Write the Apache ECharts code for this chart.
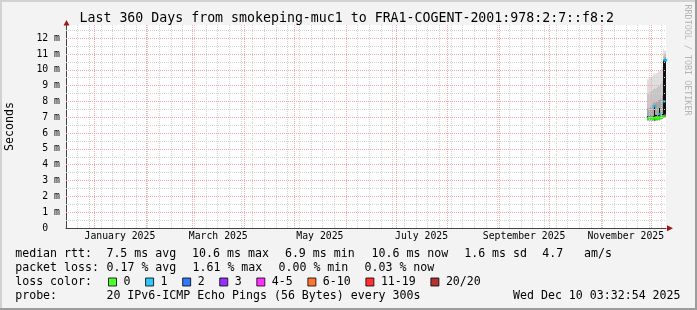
<!DOCTYPE html>
<html><head><meta charset="utf-8">
<script src="https://cdn.jsdelivr.net/npm/echarts@6/dist/echarts.min.js"></script>
<style>html,body{margin:0;padding:0;background:#f3f3f3}#c{width:697px;height:310px}</style>
</head><body><div id="c"></div>
<script>
// ---- data ----
const rangeStart = '2024-12-15T03:32:54Z';
const rangeEnd = '2025-12-10T03:32:54Z';
const times = ['2025-11-29T12:00:00Z','2025-11-30T00:00:00Z','2025-11-30T12:00:00Z','2025-12-01T00:00:00Z','2025-12-01T12:00:00Z','2025-12-02T00:00:00Z','2025-12-02T12:00:00Z','2025-12-03T00:00:00Z','2025-12-03T12:00:00Z','2025-12-04T00:00:00Z','2025-12-04T12:00:00Z','2025-12-05T00:00:00Z','2025-12-05T12:00:00Z','2025-12-06T00:00:00Z','2025-12-06T12:00:00Z','2025-12-07T00:00:00Z','2025-12-07T12:00:00Z','2025-12-08T00:00:00Z','2025-12-08T12:00:00Z','2025-12-09T00:00:00Z','2025-12-09T12:00:00Z','2025-12-10T00:00:00Z'];
const median    = [6.95,6.9,7.05,6.95,7.0,6.95,6.9,6.95,7.7,6.95,7.0,6.95,6.9,7.0,7.2,6.95,7.0,7.05,7.05,8.0,10.6,10.6];
const lossCount = [0,0,1,0,0,0,0,0,1,0,0,0,0,0,1,0,0,0,0,1,1,1];
const smokeMin    = [6.8,6.8,6.8,6.8,6.8,6.8,6.8,6.8,6.75,6.8,6.8,6.8,6.85,6.85,6.8,6.85,6.85,6.9,6.9,7.0,7.0,7.0];
const smokeLow    = [6.9,6.85,6.9,6.9,6.95,6.9,6.85,6.9,6.8,6.95,6.95,6.9,6.85,6.95,6.95,6.9,6.95,7.0,7.0,7.05,7.1,7.1];
const smokeCoreLo = [6.95,6.9,6.95,6.95,7.0,6.95,6.9,6.95,6.8,7.0,7.0,6.95,6.9,7.0,6.95,6.95,7.0,7.05,7.05,7.05,7.2,7.2];
const smokeCoreHi = [7.1,7.05,7.1,7.1,7.15,7.1,7.05,7.1,7.7,7.15,7.15,7.1,7.05,7.15,7.6,7.1,7.15,7.2,7.2,10.6,10.7,10.7];
const smokeMid    = [7.6,7.6,7.7,7.7,7.7,7.8,7.8,7.9,8.0,7.9,8.0,8.0,8.0,8.1,8.1,8.2,8.2,8.3,8.4,10.7,10.8,10.8];
const smokeHigh   = [8.5,8.5,8.6,8.6,8.6,8.7,8.7,8.8,8.9,8.8,8.9,8.9,8.9,9.0,9.0,9.1,9.1,9.2,9.3,10.9,11.0,11.0];
const smokeMax    = [9.4,9.4,9.5,9.5,9.5,9.6,9.6,9.7,9.8,9.7,9.8,9.8,9.8,9.9,9.9,10.0,10.0,10.1,10.2,11.3,11.2,11.2];
const yTicks = [0,1,2,3,4,5,6,7,8,9,10,11,12];
const labelMonths = ['2025-01','2025-03','2025-05','2025-07','2025-09','2025-11'];
const monthLabels = ['January 2025','March 2025','May 2025','July 2025','September 2025','November 2025'];
const lossBuckets = ['0','1','2','3','4-5','6-10','11-19','20/20'];
const lossUpper   = [0,1,2,3,5,10,19,20];
const lossColors  = ['#26ff00','#00b8ff','#0059ff','#7e00ff','#ff00ff','#ff5500','#ff0000','#a10000'];
const titleText = 'Last 360 Days from smokeping-muc1 to FRA1-COGENT-2001:978:2:7::f8:2';
const rttStats  = ['median rtt:','7.5 ms avg','10.6 ms max','6.9 ms min','10.6 ms now','1.6 ms sd','4.7   am/s'];
const lossStats = ['packet loss:','0.17 % avg','1.61 % max','0.00 % min','0.03 % now'];
const probeText = ['probe:','20 IPv6-ICMP Echo Pings (56 Bytes) every 300s','Wed Dec 10 03:32:54 2025'];
const lossLabel = 'loss color:';
const sideText = 'RRDTOOL / TOBI OETIKER';

// ---- build ----
const T = s => Date.parse(s);
const xMin = T(rangeStart), xMax = T(rangeEnd);
const DAY = 86400000;
const tNum = times.map(T);

const weekly = [];
for (let t = T('2024-12-22T00:00:00Z'); t < xMax; t += 7 * DAY) weekly.push({xAxis: t});
const monthly = [];
for (let m = 0; m < 12; m++) monthly.push({xAxis: Date.UTC(2025, m, 1)});
const hMinor = [], hMajor = [];
for (let v = 0.5; v < 12.83; v += 1) hMinor.push({yAxis: v});
for (let v = 1; v <= 12; v += 1) hMajor.push({yAxis: v});

const labelMap = {};
const labelValues = labelMonths.map((s, i) => {
  const [y, m] = s.split('-').map(Number);
  const mid = (Date.UTC(y, m - 1, 1) + Date.UTC(y, m, 1)) / 2;
  labelMap[mid] = monthLabels[i];
  return mid;
});

const mono = '"DejaVu Sans Mono", monospace';
const series = [];
series.push({type:'line', data:[], z:1, silent:true, markLine:{silent:true, symbol:['none','none'], label:{show:false}, animation:false,
  lineStyle:{color:'#d2d2d2', width:1, type:[1,1]}, data: weekly.concat(hMinor)}});
series.push({type:'line', data:[], z:1, silent:true, markLine:{silent:true, symbol:['none','none'], label:{show:false}, animation:false,
  lineStyle:{color:'#f5a8a8', width:1, type:[1,1]}, data: monthly.concat(hMajor)}});

// smoke: one rectangle per column and band, [tFrom, tTo, lo, hi, band]
const bounds = [smokeMin, smokeLow, smokeCoreLo, smokeCoreHi, smokeMid, smokeHigh, smokeMax];
const bandColors = ['#8c8c8c', '#555555', '#111111', '#a8a8a8', '#c6c6c6', '#dedede'];
const smokeData = [];
tNum.forEach((t, i) => {
  const tPrev = i > 0 ? tNum[i - 1] : t - (tNum[1] - tNum[0]);
  for (let k = 1; k < bounds.length; k++) {
    smokeData.push([tPrev, t, bounds[k - 1][i], bounds[k][i], k - 1]);
  }
});
series.push({
  type:'custom', z:2, silent:true, clip:true,
  encode:{x:[0,1], y:[2,3]},
  data: smokeData,
  renderItem: (params, api) => {
    const p0 = api.coord([api.value(0), api.value(3)]);
    const p1 = api.coord([api.value(1), api.value(2)]);
    const xa = Math.round(p0[0]);
    const w = Math.max(Math.round(p1[0]) - xa, 1);
    const band = api.value(4);
    return {type:'rect', shape:{x:xa, y:p0[1], width: band === 2 ? Math.max(w, 1.5) : w, height:p1[1] - p0[1]},
      style:{fill: bandColors[band]}};
  }
});

const bucketOf = n => lossUpper.findIndex(u => n <= u);
lossBuckets.forEach((name, b) => {
  series.push({
    name, type:'scatter', symbol:'rect', symbolSize:[3,2.5], z:3, silent:true,
    itemStyle:{color: lossColors[b]},
    data: tNum.map((t, i) => bucketOf(lossCount[i]) === b ? [t, median[i]] : null).filter(Boolean)
  });
});

const txt = (x, y, text, extra) => ({type:'text', x, y, silent:true,
  style:Object.assign({text, font:'11.6px ' + mono, fill:'#000', textVerticalAlign:'middle'}, extra || {})});

const graphic = [
  {type:'rect', shape:{x:0,y:0,width:697,height:2}, style:{fill:'#d2d2d2'}, silent:true},
  {type:'rect', shape:{x:0,y:0,width:2,height:310}, style:{fill:'#d2d2d2'}, silent:true},
  {type:'rect', shape:{x:0,y:308,width:697,height:2}, style:{fill:'#9c9c9c'}, silent:true},
  {type:'rect', shape:{x:695,y:0,width:2,height:310}, style:{fill:'#9c9c9c'}, silent:true},
  {type:'polygon', shape:{points:[[63.5,25.5],[69.5,25.5],[66.5,20]]}, style:{fill:'#a31515'}, silent:true},
  {type:'polygon', shape:{points:[[667,225.3],[667,231.3],[673,228.3]]}, style:{fill:'#a31515'}, silent:true},
  {type:'text', x:687, y:60, rotation:-Math.PI/2, silent:true,
    style:{text:sideText, font:'8.4px ' + mono, fill:'#b4b4b4', textAlign:'center', textVerticalAlign:'middle'}}
];
const rttX = [15.2, 106.4, 192.1, 284.9, 371.5, 464.2, 542.2];
rttStats.forEach((s, i) => graphic.push(txt(rttX[i], 254, s)));
const lossX = [15.2, 106.5, 192.5, 278.5, 364.5];
lossStats.forEach((s, i) => graphic.push(txt(lossX[i], 268, s)));
graphic.push(txt(15.2, 282, lossLabel));
const probeX = [15.2, 106.4, 513];
probeText.forEach((s, i) => graphic.push(txt(probeX[i], 296, s)));

const option = {
  animation:false,
  backgroundColor:'#f3f3f3',
  title:{text:titleText, left:79.5, top:12.5, padding:0,
    textStyle:{fontFamily:mono, fontSize:13.25, fontWeight:'normal', color:'#000'}},
  grid:{left:66, right:31, top:25, bottom:82, show:true, backgroundColor:'#ffffff', borderWidth:0, containLabel:false, outerBoundsMode:'none'},
  legend:{left:108, top:275, padding:0, itemWidth:8, itemHeight:8, itemGap:14.6, icon:'rect', selectedMode:false,
    data: lossBuckets,
    itemStyle:{borderColor:'#000', borderWidth:1},
    textStyle:{fontFamily:mono, fontSize:11.6, color:'#000', lineHeight:14, padding:[0,0,0,2]}},
  xAxis:{type:'value', min:xMin, max:xMax, scale:true,
    axisLine:{show:true, onZero:false, lineStyle:{color:'#444', width:1}},
    axisTick:{show:false}, splitLine:{show:false}, minorSplitLine:{show:false},
    axisLabel:{show:true, customValues:labelValues, margin:3, color:'#000', fontFamily:mono, fontSize:9.8,
      formatter: v => labelMap[v] || ''}},
  yAxis:{type:'value', min:0, max:12.83,
    name:'Seconds', nameLocation:'middle', nameRotate:90, nameGap:50,
    nameTextStyle:{fontFamily:mono, fontSize:11.6, color:'#000'},
    axisLine:{show:true, onZero:false, lineStyle:{color:'#444', width:1}},
    axisTick:{show:false}, splitLine:{show:false},
    axisLabel:{customValues:yTicks, margin:6, color:'#000', fontFamily:mono, fontSize:9.8,
      formatter: v => v === 0 ? '0  ' : v + ' m'}},
  series,
  graphic
};
const chart = echarts.init(document.getElementById('c'));
chart.setOption(option);
</script></body></html>
